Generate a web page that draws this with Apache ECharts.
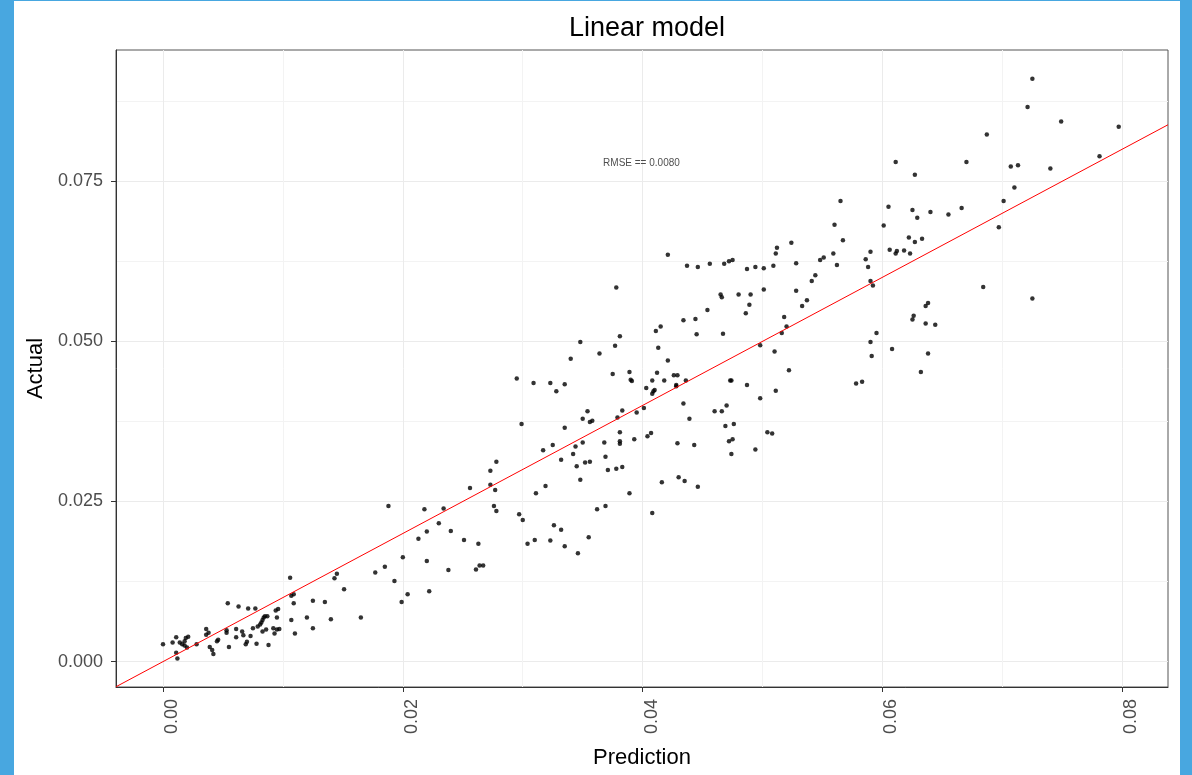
<!DOCTYPE html>
<html>
<head>
<meta charset="utf-8">
<title>Linear model</title>
<script src="https://cdn.jsdelivr.net/npm/echarts@6/dist/echarts.min.js"></script>
<style>
  html, body {
    margin: 0;
    padding: 0;
    background: #48a7e0;
  }
  #chart {
    position: absolute;
    left: 14px;
    top: 1px;
    width: 1166px;
    height: 774px;
    background: #ffffff;
  }
</style>
</head>
<body>
<div id="chart"></div>
<script>
// predicted vs actual values
const predicted = [
  0.0000, 0.0008, 0.0011, 0.0011, 0.0012, 0.0014, 0.0016, 0.0018, 0.0019, 0.0021,
  0.0018, 0.0020, 0.0028, 0.0036, 0.0038, 0.0036, 0.0039, 0.0041, 0.0042, 0.0045,
  0.0046, 0.0053, 0.0053, 0.0054, 0.0055, 0.0061, 0.0061, 0.0063, 0.0066, 0.0067,
  0.0069, 0.0070, 0.0071, 0.0073, 0.0075, 0.0077, 0.0078, 0.0079, 0.0081, 0.0082,
  0.0083, 0.0084, 0.0085, 0.0087, 0.0083, 0.0086, 0.0088, 0.0092, 0.0093, 0.0094,
  0.0096, 0.0095, 0.0095, 0.0097, 0.0107, 0.0109, 0.0109, 0.0107, 0.0110, 0.0106,
  0.0120, 0.0125, 0.0125, 0.0135, 0.0140, 0.0143, 0.0145, 0.0151, 0.0165, 0.0177,
  0.0185, 0.0193, 0.0188, 0.0200, 0.0199, 0.0204, 0.0213, 0.0220, 0.0220, 0.0218,
  0.0222, 0.0230, 0.0234, 0.0240, 0.0238, 0.0251, 0.0256, 0.0263, 0.0261, 0.0264,
  0.0267, 0.0273, 0.0273, 0.0277, 0.0278, 0.0276, 0.0278, 0.0297, 0.0300, 0.0299,
  0.0304, 0.0310, 0.0311, 0.0309, 0.0295, 0.0319, 0.0317, 0.0323, 0.0328, 0.0335,
  0.0325, 0.0335, 0.0332, 0.0326, 0.0332, 0.0323, 0.0335, 0.0346, 0.0355, 0.0342,
  0.0344, 0.0345, 0.0348, 0.0350, 0.0350, 0.0354, 0.0356, 0.0358, 0.0352, 0.0356,
  0.0362, 0.0369, 0.0368, 0.0369, 0.0371, 0.0378, 0.0383, 0.0381, 0.0381, 0.0381,
  0.0379, 0.0383, 0.0391, 0.0393, 0.0395, 0.0401, 0.0403, 0.0408, 0.0409, 0.0410,
  0.0404, 0.0407, 0.0416, 0.0408, 0.0389, 0.0428, 0.0428, 0.0434, 0.0439, 0.0429,
  0.0443, 0.0430, 0.0435, 0.0446, 0.0421, 0.0378, 0.0348, 0.0381, 0.0377, 0.0364,
  0.0375, 0.0389, 0.0390, 0.0340, 0.0408, 0.0412, 0.0413, 0.0411, 0.0415, 0.0421,
  0.0418, 0.0426, 0.0429, 0.0436, 0.0437, 0.0446, 0.0456, 0.0468, 0.0472, 0.0475,
  0.0487, 0.0494, 0.0501, 0.0509, 0.0511, 0.0512, 0.0434, 0.0444, 0.0445, 0.0454,
  0.0465, 0.0466, 0.0467, 0.0480, 0.0490, 0.0489, 0.0486, 0.0501, 0.0498, 0.0510,
  0.0473, 0.0474, 0.0487, 0.0498, 0.0511, 0.0460, 0.0466, 0.0470, 0.0469, 0.0476,
  0.0472, 0.0475, 0.0474, 0.0494, 0.0504, 0.0508, 0.0578, 0.0583, 0.0632, 0.0522,
  0.0687, 0.0611, 0.0670, 0.0627, 0.0707, 0.0713, 0.0740, 0.0781, 0.0710, 0.0701,
  0.0697, 0.0684, 0.0725, 0.0565, 0.0560, 0.0567, 0.0605, 0.0601, 0.0625, 0.0629,
  0.0640, 0.0655, 0.0666, 0.0622, 0.0627, 0.0633, 0.0606, 0.0611, 0.0612, 0.0618,
  0.0623, 0.0590, 0.0586, 0.0588, 0.0590, 0.0592, 0.0524, 0.0528, 0.0548, 0.0551,
  0.0559, 0.0562, 0.0544, 0.0541, 0.0537, 0.0533, 0.0528, 0.0518, 0.0520, 0.0516,
  0.0590, 0.0591, 0.0595, 0.0608, 0.0625, 0.0626, 0.0636, 0.0638, 0.0636, 0.0644,
  0.0638, 0.0725, 0.0721, 0.0749, 0.0797
];

const actual = [
  0.0027, 0.0030, 0.0038, 0.0014, 0.0005, 0.0030, 0.0027, 0.0032, 0.0037, 0.0039,
  0.0025, 0.0022, 0.0027, 0.0051, 0.0045, 0.0042, 0.0023, 0.0018, 0.0012, 0.0032,
  0.0034, 0.0049, 0.0045, 0.0091, 0.0023, 0.0051, 0.0038, 0.0086, 0.0047, 0.0041,
  0.0027, 0.0031, 0.0083, 0.0040, 0.0052, 0.0083, 0.0028, 0.0055, 0.0058, 0.0061,
  0.0065, 0.0069, 0.0071, 0.0071, 0.0047, 0.0050, 0.0026, 0.0052, 0.0044, 0.0080,
  0.0082, 0.0069, 0.0050, 0.0051, 0.0103, 0.0105, 0.0091, 0.0065, 0.0044, 0.0131,
  0.0069, 0.0052, 0.0095, 0.0093, 0.0066, 0.0130, 0.0137, 0.0113, 0.0069, 0.0139,
  0.0148, 0.0126, 0.0243, 0.0163, 0.0093, 0.0105, 0.0192, 0.0203, 0.0157, 0.0238,
  0.0110, 0.0216, 0.0239, 0.0204, 0.0143, 0.0190, 0.0271, 0.0184, 0.0144, 0.0150,
  0.0150, 0.0298, 0.0276, 0.0268, 0.0312, 0.0243, 0.0235, 0.0230, 0.0221, 0.0371,
  0.0184, 0.0190, 0.0263, 0.0435, 0.0442, 0.0274, 0.0330, 0.0435, 0.0422, 0.0433,
  0.0338, 0.0365, 0.0315, 0.0213, 0.0206, 0.0189, 0.0180, 0.0169, 0.0194, 0.0324,
  0.0336, 0.0305, 0.0284, 0.0342, 0.0379, 0.0391, 0.0374, 0.0376, 0.0311, 0.0312,
  0.0238, 0.0243, 0.0342, 0.0320, 0.0299, 0.0301, 0.0304, 0.0358, 0.0344, 0.0340,
  0.0381, 0.0392, 0.0438, 0.0347, 0.0389, 0.0396, 0.0427, 0.0418, 0.0422, 0.0424,
  0.0352, 0.0357, 0.0280, 0.0232, 0.0263, 0.0430, 0.0432, 0.0403, 0.0379, 0.0341,
  0.0338, 0.0288, 0.0282, 0.0273, 0.0635, 0.0584, 0.0499, 0.0508, 0.0493, 0.0481,
  0.0449, 0.0452, 0.0440, 0.0473, 0.0439, 0.0451, 0.0490, 0.0516, 0.0523, 0.0470,
  0.0439, 0.0447, 0.0447, 0.0439, 0.0618, 0.0616, 0.0621, 0.0621, 0.0625, 0.0627,
  0.0613, 0.0616, 0.0614, 0.0618, 0.0637, 0.0646, 0.0533, 0.0535, 0.0511, 0.0549,
  0.0573, 0.0569, 0.0512, 0.0573, 0.0573, 0.0557, 0.0544, 0.0581, 0.0494, 0.0484,
  0.0439, 0.0439, 0.0432, 0.0411, 0.0423, 0.0391, 0.0391, 0.0400, 0.0368, 0.0371,
  0.0344, 0.0347, 0.0324, 0.0331, 0.0358, 0.0356, 0.0434, 0.0437, 0.0452, 0.0455,
  0.0823, 0.0780, 0.0780, 0.0760, 0.0773, 0.0775, 0.0770, 0.0789, 0.0740, 0.0719,
  0.0678, 0.0585, 0.0567, 0.0719, 0.0682, 0.0658, 0.0710, 0.0681, 0.0705, 0.0693,
  0.0702, 0.0698, 0.0708, 0.0662, 0.0655, 0.0660, 0.0643, 0.0637, 0.0641, 0.0642,
  0.0637, 0.0640, 0.0628, 0.0616, 0.0594, 0.0587, 0.0654, 0.0622, 0.0627, 0.0631,
  0.0637, 0.0619, 0.0603, 0.0594, 0.0564, 0.0555, 0.0579, 0.0538, 0.0523, 0.0513,
  0.0499, 0.0477, 0.0513, 0.0488, 0.0534, 0.0540, 0.0555, 0.0560, 0.0528, 0.0526,
  0.0481, 0.0910, 0.0866, 0.0843, 0.0835
];

const xTicks = [0, 0.02, 0.04, 0.06, 0.08];
const xMinorTicks = [0.01, 0.03, 0.05, 0.07];
const yTicks = [0, 0.025, 0.05, 0.075];
const yMinorTicks = [0.0125, 0.0375, 0.0625, 0.0875];

const xRange = [-0.00392, 0.08381];
const yRange = [-0.00396, 0.09548];

// y = x reference line
const refLine = [xRange[0], xRange[1]];

const rmseLabel = "RMSE == 0.0080";
const rmsePos = [0.0399, 0.0778];

const points = predicted.map((p, i) => [p, actual[i]]);

const fontFamily = "'Liberation Sans', Arial, sans-serif";

const chart = echarts.init(document.getElementById("chart"));

chart.setOption({
  animation: false,
  textStyle: { fontFamily: fontFamily },
  title: {
    text: "Linear model",
    left: 628,
    top: 9,
    textAlign: "center",
    textStyle: {
      color: "#000000",
      fontSize: 27,
      fontWeight: "normal",
      fontFamily: fontFamily,
    },
  },
  grid: {
    left: 102,
    top: 49,
    right: 12,
    bottom: 88,
    show: true,
    borderColor: "#555555",
    borderWidth: 1,
    backgroundColor: "transparent",
  },
  xAxis: [
    {
      type: "value",
      min: xRange[0],
      max: xRange[1],
      name: "Prediction",
      nameLocation: "middle",
      nameGap: 60,
      nameTextStyle: { color: "#000000", fontSize: 22 },
      axisLine: { show: true, onZero: false, lineStyle: { color: "#333333" } },
      axisTick: {
        show: true,
        length: 5,
        customValues: xTicks,
        lineStyle: { color: "#333333" },
      },
      axisLabel: {
        customValues: xTicks,
        rotate: 90,
        margin: 12,
        verticalAlign: "top",
        color: "#4d4d4d",
        fontSize: 18,
        formatter: (v) => v.toFixed(2),
      },
      splitLine: { show: true, lineStyle: { color: "#ebebeb", width: 1 } },
    },
    {
      type: "value",
      min: xRange[0],
      max: xRange[1],
      position: "top",
      axisLine: { show: false },
      axisTick: { show: false, customValues: xMinorTicks },
      axisLabel: { show: false, customValues: xMinorTicks },
      splitLine: { show: true, lineStyle: { color: "#f3f3f3", width: 1 } },
    },
  ],
  yAxis: [
    {
      type: "value",
      min: yRange[0],
      max: yRange[1],
      name: "Actual",
      nameLocation: "middle",
      nameGap: 66,
      nameRotate: 90,
      nameTextStyle: { color: "#000000", fontSize: 22 },
      axisLine: { show: true, onZero: false, lineStyle: { color: "#333333" } },
      axisTick: {
        show: true,
        length: 5,
        customValues: yTicks,
        lineStyle: { color: "#333333" },
      },
      axisLabel: {
        customValues: yTicks,
        margin: 13,
        color: "#4d4d4d",
        fontSize: 18,
        formatter: (v) => v.toFixed(3),
      },
      splitLine: { show: true, lineStyle: { color: "#ebebeb", width: 1 } },
    },
    {
      type: "value",
      min: yRange[0],
      max: yRange[1],
      position: "right",
      axisLine: { show: false },
      axisTick: { show: false, customValues: yMinorTicks },
      axisLabel: { show: false, customValues: yMinorTicks },
      splitLine: { show: true, lineStyle: { color: "#f3f3f3", width: 1 } },
    },
  ],
  series: [
    {
      name: "points",
      type: "scatter",
      data: points,
      symbol: "circle",
      symbolSize: 4.5,
      itemStyle: { color: "#000000" },
      silent: true,
      z: 3,
    },
    {
      name: "reference",
      type: "line",
      data: refLine.map((v) => [v, v]),
      showSymbol: false,
      symbol: "none",
      lineStyle: { color: "#ff0000", width: 1 },
      silent: true,
      z: 4,
    },
    {
      name: "rmse",
      type: "scatter",
      data: [rmsePos],
      symbolSize: 1,
      itemStyle: { color: "rgba(0,0,0,0)" },
      label: {
        show: true,
        position: "inside",
        formatter: rmseLabel,
        color: "#222222",
        fontSize: 10,
      },
      silent: true,
      z: 5,
    },
  ],
});
</script>
</body>
</html>
